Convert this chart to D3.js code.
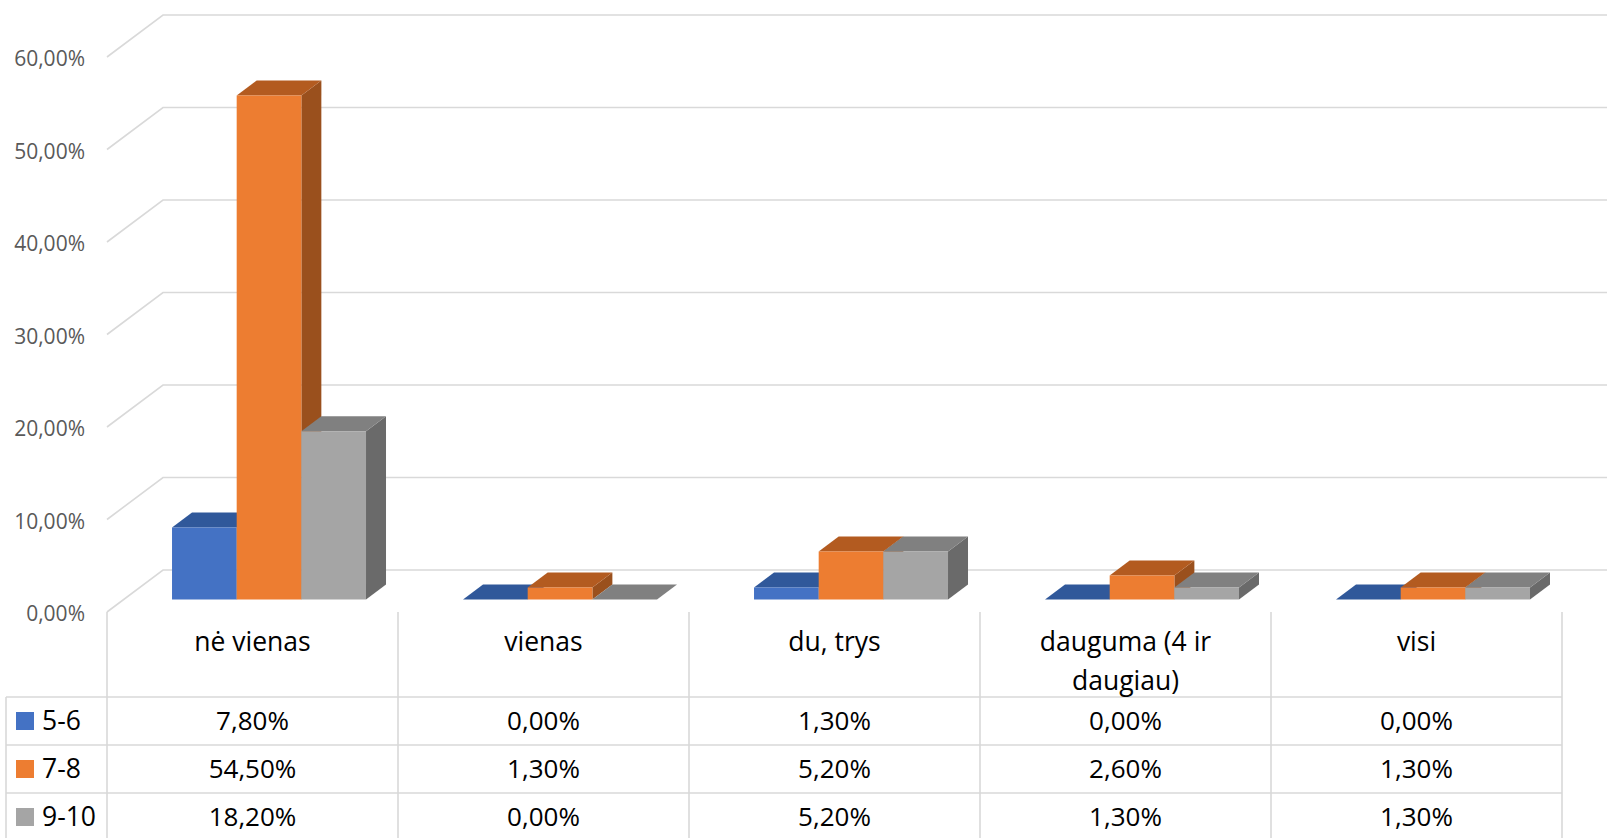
<!DOCTYPE html>
<html>
<head>
<meta charset="utf-8">
<script src="https://cdn.jsdelivr.net/npm/d3@7"></script>
<style>
  body { margin: 0; background: #fff; }
  svg { display: block; font-family: "Open Sans", "Noto Sans", sans-serif; }
</style>
</head>
<body>
<div id="chart"></div>
<script>
// data (percent)
const categories = ["nė vienas", "vienas", "du, trys", "dauguma (4 ir daugiau)", "visi"];
const seriesNames = ["5-6", "7-8", "9-10"];
const values56 = [7.8, 0, 1.3, 0, 0];
const values78 = [54.5, 1.3, 5.2, 2.6, 1.3];
const values910 = [18.2, 0, 5.2, 1.3, 1.3];
const yTicks = [0, 10, 20, 30, 40, 50, 60];

const seriesValues = [values56, values78, values910];

const width = 1607;
const height = 838;

const frontColors = ["#4472C4", "#ED7D31", "#A5A5A5"];
const topColors = ["#30589A", "#B35B20", "#808080"];
const sideColors = ["#284B83", "#9A501D", "#6A6A6A"];

// 3d floor offsets (oblique projection)
const floorDx = 56, floorDy = -42;
const barOff = 0.295, barDepth = 0.357;

const plotLeft = 107, plotRight = 1562;
const floorY = 612;

const locale = d3.formatLocale({decimal: ",", thousands: " ", grouping: [3], currency: ["", "€"]});
const fmt = v => locale.format(".2f")(v) + "%";

const svg = d3.select("#chart")
  .append("svg")
  .attr("width", width)
  .attr("height", height);

const x = d3.scaleBand()
  .domain(categories)
  .range([plotLeft, plotRight])
  .padding(0);

const x1 = d3.scaleBand()
  .domain(seriesNames)
  .range([0, x.bandwidth()])
  .paddingInner(0)
  .paddingOuter(0.75);

const y = d3.scaleLinear()
  .domain([0, 60])
  .range([floorY, 57]);

function pt(px, v, f) {
  return [px + floorDx * f, y(v) + floorDy * f];
}

// gridlines: side wall diagonal + back wall
svg.append("g")
  .selectAll("path")
  .data(yTicks)
  .join("path")
    .attr("fill", "none")
    .attr("stroke", "#D9D9D9")
    .attr("stroke-width", 1.6)
    .attr("d", t => {
      const a = pt(plotLeft, t, 0);
      const b = pt(plotLeft, t, 1);
      return "M" + a + "L" + b + "L" + [width + 10, b[1]];
    });

// y axis labels
const yAxis = svg.append("g")
  .attr("transform", "translate(88,2)")
  .call(d3.axisLeft(y).tickValues(yTicks).tickSize(0).tickPadding(3).tickFormat(fmt));
yAxis.select(".domain").remove();
yAxis.selectAll("text")
  .attr("font-size", "21px")
  .attr("font-family", "'Open Sans', 'Noto Sans', sans-serif")
  .attr("fill", "#595959");

// bars, drawn left to right so nearer faces cover farther ones
const bars = [];
categories.forEach((c, ci) => {
  seriesNames.forEach((s, si) => {
    bars.push({cat: c, series: s, si: si, value: seriesValues[si][ci]});
  });
});

const f1 = barOff, f2 = barOff + barDepth;
const poly = pts => "M" + pts.join("L") + "Z";

const barG = svg.append("g")
  .selectAll("g")
  .data(bars)
  .join("g");

barG.append("path")
  .attr("fill", d => sideColors[d.si])
  .attr("d", d => {
    const xr = x(d.cat) + x1(d.series) + x1.bandwidth();
    return poly([pt(xr, 0, f1), pt(xr, 0, f2), pt(xr, d.value, f2), pt(xr, d.value, f1)]);
  });

barG.append("path")
  .attr("fill", d => topColors[d.si])
  .attr("d", d => {
    const xl = x(d.cat) + x1(d.series);
    const xr = xl + x1.bandwidth();
    return poly([pt(xl, d.value, f1), pt(xr, d.value, f1), pt(xr, d.value, f2), pt(xl, d.value, f2)]);
  });

barG.append("path")
  .attr("fill", d => frontColors[d.si])
  .attr("d", d => {
    const xl = x(d.cat) + x1(d.series);
    const xr = xl + x1.bandwidth();
    return poly([pt(xl, 0, f1), pt(xr, 0, f1), pt(xr, d.value, f1), pt(xl, d.value, f1)]);
  });

// data table below the chart
const tableLeft = 6;
const rowLines = [697, 745, 793];
const rowCenters = [721, 769, 817];
const table = svg.append("g").attr("stroke", "#D9D9D9").attr("stroke-width", 1.6);

const colEdges = d3.range(categories.length + 1).map(i => plotLeft + i * x.step());
table.selectAll(".vline")
  .data(colEdges)
  .join("line")
    .attr("x1", d => d).attr("x2", d => d)
    .attr("y1", floorY).attr("y2", height + 5);

table.append("line")
  .attr("x1", tableLeft).attr("x2", tableLeft)
  .attr("y1", rowLines[0]).attr("y2", height + 5);

table.selectAll(".hline")
  .data(rowLines)
  .join("line")
    .attr("x1", tableLeft).attr("x2", plotRight)
    .attr("y1", d => d).attr("y2", d => d);

// category header labels (wrapped)
function wrap(text, maxWidth) {
  text.each(function() {
    const t = d3.select(this);
    const words = t.text().split(/\s+/);
    t.text(null);
    let line = [];
    let tspan = t.append("tspan").attr("x", t.attr("x")).attr("dy", "0.35em");
    words.forEach(w => {
      line.push(w);
      tspan.text(line.join(" "));
      if (tspan.node().getComputedTextLength() > maxWidth && line.length > 1) {
        line.pop();
        tspan.text(line.join(" "));
        line = [w];
        tspan = t.append("tspan").attr("x", t.attr("x")).attr("dy", "1.47em").text(w);
      }
    });
  });
}

svg.append("g")
  .selectAll("text")
  .data(categories)
  .join("text")
    .attr("x", d => x(d) + x.bandwidth() / 2)
    .attr("y", 642)
    .attr("text-anchor", "middle")
    .attr("font-size", "26.5px")
    .attr("fill", "#000")
    .text(d => d)
    .call(wrap, 230);

// legend keys + values per row
seriesNames.forEach((s, si) => {
  const row = svg.append("g");
  row.append("rect")
    .attr("x", 16)
    .attr("y", rowCenters[si] - 9)
    .attr("width", 18)
    .attr("height", 18)
    .attr("fill", frontColors[si]);
  row.append("text")
    .attr("x", 42)
    .attr("y", rowCenters[si])
    .attr("dy", "0.35em")
    .attr("font-size", "26.5px")
    .attr("fill", "#000")
    .text(s);
  row.selectAll(".val")
    .data(seriesValues[si])
    .join("text")
      .attr("x", (d, i) => x(categories[i]) + x.bandwidth() / 2)
      .attr("y", rowCenters[si])
      .attr("dy", "0.35em")
      .attr("text-anchor", "middle")
      .attr("font-size", "26px")
      .attr("fill", "#000")
      .text(d => fmt(d));
});
</script>
</body>
</html>
